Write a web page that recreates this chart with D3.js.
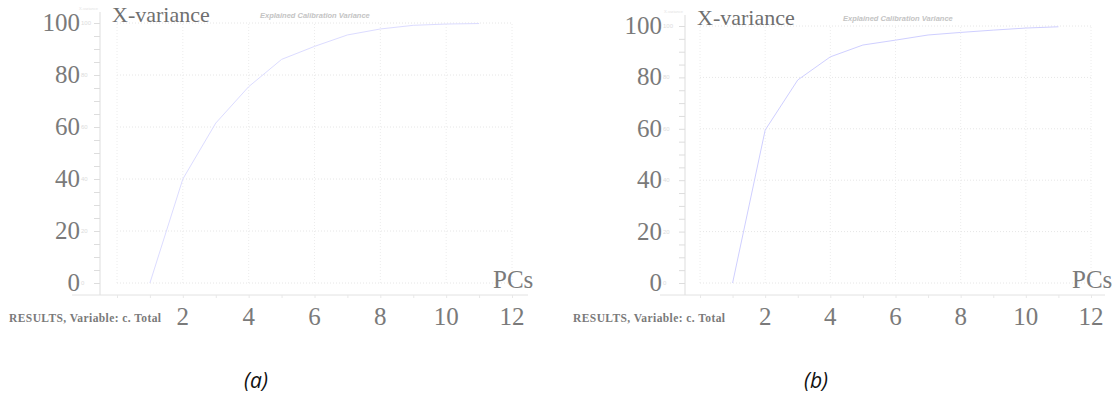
<!DOCTYPE html>
<html><head><meta charset="utf-8">
<script src="https://cdn.jsdelivr.net/npm/d3@7/dist/d3.min.js"></script>
<style>
body{margin:0;background:#fff;}
svg{display:block;}
</style></head>
<body><svg id="c" width="1118" height="405"></svg>
<script>
const pcs = [1,2,3,4,5,6,7,8,9,10,11];
const varianceA = [0,40,61.5,75.5,86,91,95.4,97.7,99.1,99.6,99.8];
const varianceB = [0,59.5,79,88,92.6,94.5,96.5,97.5,98.4,99.2,99.7];
const yTicks = [0,20,40,60,80,100];
const xTicks = [2,4,6,8,10,12];
const panelLabels = ["(a)","(b)"];
const yTitle = "X-variance";
const xTitle = "PCs";
const chartTitle = "Explained Calibration Variance";
const footer = "RESULTS, Variable: c. Total";

const svg = d3.select("#c");
const serif = "'Liberation Serif','DejaVu Serif',serif";

function panel(values, L, label){
  const g = svg.append("g");
  const x = d3.scaleLinear().domain([0,12]).range([L.x0, L.x12]);
  const y = d3.scaleLinear().domain([0,100]).range([L.y0, L.y100]);
  // grid
  g.selectAll(".hg").data(yTicks).join("line")
    .attr("x1", x(0)).attr("x2", x(12)).attr("y1", d=>y(d)).attr("y2", d=>y(d))
    .attr("stroke","#e6e6e6").attr("stroke-dasharray","1,2");
  g.selectAll(".vg").data([0].concat(xTicks)).join("line")
    .attr("x1", d=>x(d)).attr("x2", d=>x(d)).attr("y1", y(0)).attr("y2", y(100))
    .attr("stroke","#ececec").attr("stroke-dasharray","1,2");
  // y axis
  const ya = g.append("g").attr("transform",`translate(${L.ax},0)`)
    .call(d3.axisLeft(y).tickValues(d3.range(0,101,5)).tickSize(6).tickFormat(""));
  ya.select(".domain").attr("stroke","#dddddd").attr("d",`M0,${L.y100-11}V${L.xaxisY}`);
  ya.selectAll(".tick line").attr("stroke","#dddddd");
  // x axis
  const xa = g.append("g").attr("transform",`translate(0,${L.xaxisY})`)
    .call(d3.axisBottom(x).tickValues(d3.range(0,13,1)).tickSize(3).tickFormat(""));
  xa.select(".domain").attr("stroke","#e2e2e2").attr("d",`M${L.xaxStart},0H${L.xaxEnd}`);
  xa.selectAll(".tick line").attr("stroke","#e8e8e8");
  // y tick labels
  g.selectAll(".yl").data(yTicks).join("text")
    .attr("x", L.ax-L.ylOff).attr("y", d=>y(d)+8).attr("text-anchor","end")
    .attr("font-family",serif).attr("font-size",25).attr("fill","#7a7a7a").text(d=>d);
  g.selectAll(".yls").data(yTicks).join("text")
    .attr("x", L.ax-L.ylOff+1).attr("y", d=>y(d)+2).attr("text-anchor","start")
    .attr("font-family","Arial,sans-serif").attr("font-size",6).attr("fill","#dcdcdc").text(d=>d);
  // x tick labels
  g.selectAll(".xl").data(xTicks).join("text")
    .attr("x", d=>x(d)).attr("y", L.xaxisY+30).attr("text-anchor","middle")
    .attr("font-family",serif).attr("font-size",25).attr("fill","#7a7a7a").text(d=>d);
  // line
  const line = d3.line().x((d,i)=>x(pcs[i])).y(d=>y(d));
  g.append("path").datum(values).attr("d",line).attr("fill","none")
    .attr("stroke",L.lineColor).attr("stroke-width",1);
  // titles
  g.append("text").attr("x",L.ax-2).attr("y",L.y100-13).attr("text-anchor","end").attr("font-family","Arial,sans-serif")
    .attr("font-size",4).attr("fill","#e4e4e4").text(yTitle);
  g.append("text").attr("x",L.ax+12).attr("y",L.y100-1).attr("font-family",serif)
    .attr("font-size",22).attr("fill","#6f6f6f").text(yTitle);
  g.append("text").attr("x",L.titleX).attr("y",L.y100-5).attr("font-family","'Liberation Sans',Arial,sans-serif")
    .attr("font-size",7.5).attr("font-style","italic").attr("font-weight","bold").attr("fill","#c4c4c4").text(chartTitle);
  g.append("text").attr("x",L.pcsX).attr("y",L.y0+5).attr("font-family",serif)
    .attr("font-size",25).attr("fill","#7a7a7a").text(xTitle);
  g.append("text").attr("x",L.footX).attr("y",L.xaxisY+27).attr("font-family",serif)
    .attr("font-size",11.5).attr("font-weight","bold").attr("fill","#7a7a7a")
    .attr("textLength",152).attr("lengthAdjust","spacing").text(footer);
  g.append("text").attr("x",L.labX).attr("y",388).attr("text-anchor","middle")
    .attr("font-family","'Open Sans','Liberation Sans',sans-serif").attr("font-style","italic")
    .attr("font-size",21).attr("fill","#111").text(label);
}

panel(varianceA, {ax:100, ylOff:20, x0:117, x12:512, y0:283, y100:23, xaxisY:295, xaxStart:72, xaxEnd:528,
  titleX:260, pcsX:493, footX:9, labX:256, lineColor:"#dcdcff"}, panelLabels[0]);
panel(varianceB, {ax:685, ylOff:23, x0:700, x12:1091, y0:283, y100:26, xaxisY:295, xaxStart:660, xaxEnd:1105,
  titleX:843, pcsX:1072, footX:573, labX:816, lineColor:"#cfcfff"}, panelLabels[1]);
</script></body></html>
